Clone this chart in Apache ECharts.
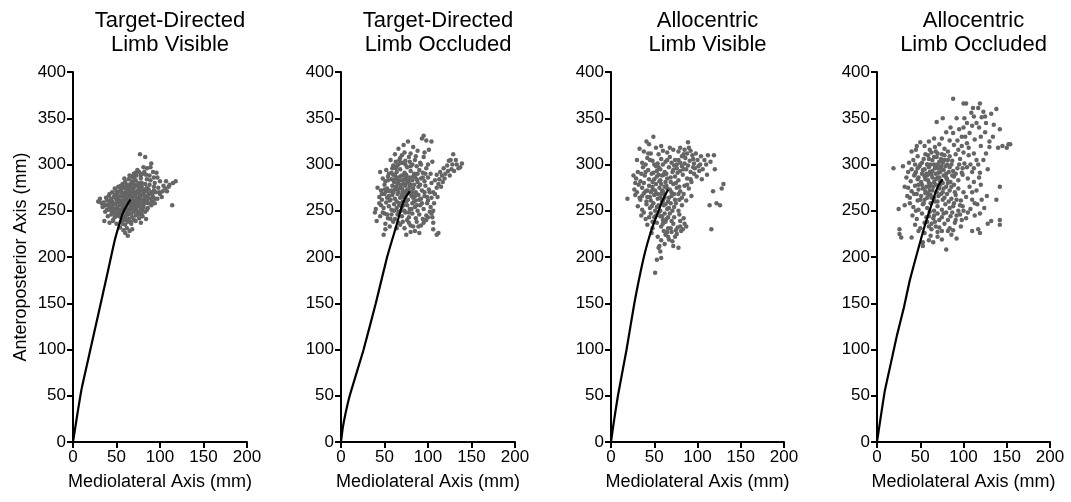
<!DOCTYPE html>
<html>
<head>
<meta charset="utf-8">
<script src="https://cdn.jsdelivr.net/npm/echarts@6/dist/echarts.min.js"></script>
<style>html,body{margin:0;padding:0;background:#fff}#c{width:1071px;height:502px}</style>
</head>
<body>
<div id="c"></div>
<script>
const panelTitles = ["Target-Directed\nLimb Visible", "Target-Directed\nLimb Occluded", "Allocentric\nLimb Visible", "Allocentric\nLimb Occluded"];
const xTicks = [0, 50, 100, 150, 200];
const yTicks = [0, 50, 100, 150, 200, 250, 300, 350, 400];
const xAxisName = "Mediolateral Axis (mm)";
const yAxisName = "Anteroposterior Axis (mm)";

const pts1 = [[60,281],[64,284],[68,282],[72,283],[75,280],[70,286],[66,279],[78,285],[62,278],[57,279],
[48,274],[52,276],[55,273],[58,275],[61,274],[64,276],[67,273],[70,275],[73,277],[76,274],[79,276],[82,273],[85,275],[88,278],[50,271],
[42,268],[45,270],[48,267],[51,269],[54,271],[57,268],[60,270],[63,267],[66,269],[69,271],[72,268],[75,270],[78,267],[81,269],[84,271],[87,268],[90,270],[93,272],
[38,264],[41,266],[44,263],[47,265],[50,262],[53,264],[56,266],[59,263],[62,265],[65,262],[68,264],[71,266],[74,263],[77,265],[80,262],[83,264],[86,266],[89,263],[92,265],
[30,260],[35,259],[39,261],[42,258],[45,260],[48,257],[51,259],[54,261],[57,258],[60,260],[63,257],[66,259],[69,261],[72,258],[75,260],[78,257],[81,259],[84,261],[87,258],[90,256],
[34,254],[38,256],[42,253],[45,255],[48,252],[51,254],[54,256],[57,253],[60,255],[63,252],[66,254],[69,256],[72,253],[75,255],[78,252],[81,254],[85,251],
[37,249],[41,251],[45,248],[49,250],[52,247],[55,249],[58,251],[61,248],[64,250],[67,247],[70,249],[73,251],[76,248],[79,246],[83,249],
[40,244],[44,246],[48,243],[52,245],[56,242],[60,244],[64,241],[68,243],[72,245],[76,242],[80,244],[84,241],
[36,239],[42,237],[46,240],[50,236],[55,238],[60,235],[63,238],[67,236],[72,239],[78,237],
[54,232],[58,229],[62,231],[65,228],[60,226],[63,223],[68,230],
[77,311],[83,308],[90,301],[85,296],[74,294],[92,292],[96,291],[100,282],[106,274],[111,278],[115,280],[118,282],[114,256],[102,265],[29,260],[35,255],[46,239],[97,286],[94,280],[99,270],[104,277],[108,271],[88,288],[80,290],[72,291],[85,284],[93,276],
[65,288],[70,290],[78,288],[82,292],
[46,258],[49,264],[53,260],[56,270],[59,266],[61,262],[64,270],[67,266],[70,260],[73,264],[76,268],[79,272],[82,266],[85,262],[88,268],[47,250],[53,251],[58,257],[62,260],[65,265],[68,257],[71,255],[74,258],[77,261],[80,256],[83,258],[86,253],[56,247],[62,246],[69,252],[74,249],[80,250],[55,277],[60,276],[65,273],[70,279],[74,272],[79,280],[83,279],[87,273],[91,268],[94,263],[95,270],[43,261],[40,256],[44,251],[58,240],[66,238],[70,240],[75,246],[59,285],[67,287],[73,288],[52,266],[56,257],[60,251],[64,246],[67,252],[71,270],[77,277],[62,270],[58,262],[69,267],[73,261],[66,276],[53,244],[49,246],[57,236],[61,240],[39,251],[33,258],[31,263],[91,260],[94,258],[97,263],[100,268],[98,275],[103,271],[110,276],[107,282],[89,283],[84,289],[76,292],[81,297],[89,297],[93,286]];

const pts2 = [[95,331],[98,326],[104,325],[77,325],[93,328],
[83,319],[66,317],[72,321],[88,315],[96,313],[80,312],[70,310],[62,311],[101,316],
[57,305],[63,303],[68,307],[74,304],[78,308],[85,305],[91,302],[95,308],[60,299],[66,300],[71,302],[82,300],[87,298],[100,300],[105,303],[129,311],[133,300],[139,301],[126,305],[122,299],[118,296],[135,296],[130,293],
[45,292],[52,294],[55,290],[59,296],[64,292],[68,295],[73,291],[76,297],[80,293],[84,290],[90,294],[94,291],[110,289],[114,292],[120,290],[125,288],[127,295],[113,284],[117,281],[108,283],
[48,285],[51,282],[54,287],[58,284],[61,281],[64,286],[67,283],[70,288],[73,284],[76,281],[79,286],[82,283],[85,287],[88,281],[92,285],[96,282],[100,286],[104,280],[62,289],[75,289],
[42,275],[46,272],[50,278],[53,274],[56,271],[59,277],[62,273],[65,279],[68,275],[71,271],[74,277],[77,273],[80,278],[83,274],[86,270],[89,276],[93,272],[97,277],[101,273],[106,270],[110,275],[66,270],[72,279],[79,271],
[44,265],[47,262],[50,268],[53,264],[56,261],[59,267],[62,263],[65,268],[68,264],[71,260],[74,266],[77,262],[80,268],[83,264],[86,261],[89,267],[92,263],[96,266],[100,261],[104,264],[108,268],[70,267],[76,269],
[40,252],[46,256],[49,253],[52,259],[55,255],[58,251],[61,257],[64,253],[67,258],[70,254],[73,250],[76,256],[79,252],[82,258],[85,254],[88,250],[91,256],[95,252],[99,258],[103,254],[106,250],
[39,248],[45,244],[50,247],[54,242],[58,246],[62,241],[66,249],[70,244],[74,248],[78,243],[82,247],[86,242],[90,246],[94,241],[98,245],[102,249],[105,243],
[41,239],[51,236],[56,233],[60,238],[68,235],[73,231],[78,237],[83,233],[87,238],[92,234],[98,240],[106,237],[64,231],[85,228],
[51,230],[49,224],[75,224],[110,224],[106,230],[90,226],[80,227],[112,226],
[60,270],[63,276],[66,282],[69,278],[72,265],[75,272],[78,280],[81,266],[84,278],[87,284],[64,260],[67,256],[70,274],[73,288],[76,286],[79,276],[82,270],[85,266],[62,284],[58,272],[55,266],[52,271],[57,262],[61,250],[65,246],[69,250],[72,256],[75,260],[78,248],[81,252],[84,260],[87,256],[90,262],[93,258],[96,270],[99,265],[102,270],[91,278],[94,286],[97,290],[88,290],[80,298],[74,300],[69,302],[64,298],[58,291],[54,283],[50,273],[47,268],[44,258],[48,248],[53,246],[57,241],[66,237],[71,238],[76,240],[80,234],[89,233],[95,237],[100,243],[104,247],[107,258],[111,265],[115,276],[119,285],[123,293],[128,300],[132,305],[137,297],[124,304],[116,288],[112,279],[103,290],[98,296],[92,300],[86,309],[79,303],[73,313],[67,305],[63,296],[60,289],[73,268],[68,287],[77,283],[71,283],[65,273],[83,287]];

const pts3 = [[49,330],[41,325],[89,324],[44,322],[52,318],
[33,317],[38,314],[46,312],[55,311],[60,315],[65,313],[72,316],[78,314],[84,311],[92,315],[98,312],[112,310],[119,310],[104,309],
[30,305],[36,302],[42,307],[48,304],[54,301],[58,306],[63,303],[68,308],[74,305],[80,302],[86,307],[91,304],[96,301],[103,300],[108,305],[82,309],[76,300],
[31,292],[37,297],[43,294],[49,291],[52,298],[57,295],[62,292],[67,297],[72,294],[77,291],[82,298],[87,295],[92,292],[97,296],[102,293],[111,289],[120,295],[73,299],
[29,285],[34,282],[39,288],[44,284],[48,281],[53,287],[57,283],[61,289],[65,285],[69,281],[74,287],[78,283],[83,289],[88,285],[93,281],[99,287],[105,284],[63,281],[55,289],
[27,273],[32,278],[36,275],[40,271],[44,277],[48,273],[52,279],[56,275],[60,271],[64,277],[68,273],[72,279],[76,275],[80,271],[85,277],[90,274],[118,271],[128,274],[130,279],[58,279],[46,270],
[19,263],[28,267],[33,264],[38,269],[42,265],[46,261],[50,267],[54,263],[58,268],[62,264],[66,260],[70,266],[74,262],[78,268],[82,264],[87,261],[93,266],[60,261],[52,269],
[31,255],[36,251],[41,257],[45,253],[49,258],[53,254],[57,250],[61,256],[65,252],[69,258],[73,254],[78,250],[82,256],[114,256],[126,256],[122,258],
[35,245],[40,241],[46,247],[50,243],[55,248],[59,244],[64,241],[68,247],[73,243],[79,246],[84,242],
[42,235],[48,231],[53,237],[58,233],[63,238],[66,231],[72,236],[77,232],[83,230],[87,233],[116,230],[80,239],
[47,226],[54,222],[58,218],[63,224],[67,219],[70,227],[74,222],[78,210],[72,212],[76,225],[81,228],[61,228],[56,212],
[51,183],[58,199],[53,197],[57,206],[55,210],
[45,265],[48,276],[51,272],[54,268],[57,264],[59,272],[62,268],[65,274],[67,264],[70,270],[73,268],[75,280],[79,276],[62,276],[56,282],[50,284],[47,290],[53,293],[59,288],[64,290],[69,286],[71,292],[76,296],[80,293],[84,295],[78,305],[85,301],[89,299],[95,297],[100,305],[94,310],[88,312],[70,302],[65,305],[60,300],[55,297],[50,300],[45,305],[40,300],[35,290],[38,280],[42,272],[36,266],[41,260],[47,255],[51,250],[55,256],[59,260],[63,257],[67,253],[71,250],[75,258],[79,262],[84,268],[88,278],[92,284],[96,290],[101,298],[106,295],[110,300],[115,303],[57,244],[62,247],[66,243],[70,239],[60,236],[65,227],[69,231],[75,229],[80,233],[85,236],[71,217],[66,222],[62,214],[60,240],[52,245],[48,238],[44,243],[38,248],[34,262],[30,270],[28,280],[26,288],[40,292],[43,312],[58,320],[68,318],[80,318],[85,316],[90,318],[95,306]];

const pts4 = [[88,371],[100,366],[103,366],[111,361],[117,361],[138,360],[123,357],[121,351],[125,352],[92,350],[76,350],[69,346],[101,350],[109,356],[142,338],[154,322],[152,322],[134,330],[130,319],[115,345],[118,340],[110,342],[95,338],[85,340],[80,335],[98,330],[107,334],[125,335],[140,318],[113,327],
[50,324],[55,320],[61,316],[67,319],[72,322],[78,317],[84,326],[89,321],[94,316],[100,313],[104,323],[120,320],[45,316],[40,314],
[42,305],[47,309],[52,302],[56,311],[60,306],[63,313],[66,300],[69,308],[72,303],[75,311],[78,305],[81,300],[84,309],[87,304],[91,311],[96,306],[101,301],[106,310],[115,305],[128,295],[19,296],[30,298],[58,300],[74,296],[68,314],
[40,295],[45,292],[49,298],[53,294],[57,290],[60,297],[64,293],[67,299],[71,291],[74,298],[77,294],[80,290],[84,297],[88,293],[93,296],[98,291],[104,297],[110,292],[119,291],[62,290],[70,296],
[34,286],[39,282],[43,288],[47,284],[51,281],[55,287],[59,283],[63,289],[66,281],[70,286],[73,282],[77,288],[81,284],[85,281],[89,287],[94,283],[99,289],[105,285],[112,281],[118,286],[58,288],[68,284],
[36,275],[40,271],[44,277],[48,273],[52,278],[56,271],[60,276],[64,272],[68,278],[72,274],[76,270],[80,276],[84,272],[89,278],[94,274],[100,270],[107,276],[115,272],[142,276],[62,279],
[38,264],[43,268],[47,261],[51,266],[55,262],[59,268],[63,264],[67,260],[71,266],[76,262],[81,268],[86,263],[91,267],[97,261],[103,265],[110,262],[121,262],[56,269],
[25,252],[32,256],[42,254],[48,251],[53,257],[58,253],[62,258],[66,250],[70,255],[75,251],[79,257],[84,253],[89,258],[94,250],[99,255],[108,252],[116,257],[124,253],
[41,245],[46,241],[52,247],[57,243],[61,249],[65,242],[70,247],[75,243],[80,248],[85,244],[91,240],[96,246],[103,242],[113,245],[132,239],[142,240],[119,247],
[26,230],[44,235],[50,231],[55,237],[60,233],[67,238],[72,232],[78,236],[84,231],[90,237],[97,233],[117,230],[142,235],[128,236],[63,230],
[28,221],[40,221],[53,212],[55,226],[62,223],[70,227],[75,219],[80,208],[86,224],[92,220],[119,226],[110,228],[26,225],[65,216],
[55,295],[58,300],[61,292],[64,305],[67,296],[70,300],[73,292],[76,302],[79,298],[82,305],[62,300],[66,308],[70,312],[74,306],[78,310],[82,314],[86,300],[59,310],[54,306],[50,300],[47,296],[44,290],[48,286],[52,290],[56,284],[60,280],[64,286],[68,290],[72,286],[76,280],[80,286],[83,292],[87,288],[91,290],[95,300],[99,296],[48,278],[53,274],[57,276],[61,272],[65,276],[69,270],[73,278],[77,274],[82,280],[86,276],[90,270],[46,268],[50,262],[54,258],[58,264],[62,267],[66,264],[70,260],[74,268],[78,264],[83,260],[88,255],[92,262],[96,256],[100,250],[105,248],[60,244],[66,245],[72,240],[77,247],[82,240],[87,248],[92,245],[98,240],[58,238],[63,236],[68,233],[82,228],[88,229],[75,228],[70,222],[60,218],[53,216],[48,228],[45,250],[38,258],[35,266],[32,276],[36,292],[37,302],[44,300],[46,320],[60,325],[66,328],[75,328],[88,334],[93,326],[98,320],[102,330],[106,318],[112,312],[117,300],[123,305],[126,312],[120,330],[126,345],[132,355],[112,352],[104,345],[100,340],[119,366],[130,325],[135,343],[145,320],[150,318],[108,300],[112,296],[110,270],[113,258],[120,278],[127,266],[138,262]];

const path1 = [[0,0],[5,30],[10,58],[20,100],[30,142],[40,184],[48,218],[54,238],[58,249],[62,256],[66,262]];
const path2 = [[0,0],[2,15],[5,30],[10,50],[18,75],[26,100],[40,150],[53,200],[64,235],[70,255],[74,264],[79,271]];
const path3 = [[0,0],[3,20],[8,50],[18,100],[27,150],[38,200],[47,230],[55,250],[60,262],[66,273]];
const path4 = [[0,0],[4,25],[9,55],[16,85],[23,115],[31,145],[38,175],[46,203],[54,230],[60,248],[64,259],[68,271],[72,279],[76,284]];

const scatterSets = [pts1, pts2, pts3, pts4];
const pathSets = [path1, path2, path3, path4];

const FONT = "'Liberation Sans', Arial, sans-serif";
const gridLefts = [73, 341, 611, 877];
const gridWidths = [174, 174, 173, 173];

const chart = echarts.init(document.getElementById('c'));
const grids = [], xAxes = [], yAxes = [], series = [], titles = [];
for (let i = 0; i < 4; i++) {
  grids.push({left: gridLefts[i], top: 72, width: gridWidths[i], height: 370, containLabel: false});
  titles.push({
    text: panelTitles[i], left: gridLefts[i] + gridWidths[i] / 2 + 5, top: 4, textAlign: 'center',
    textStyle: {fontFamily: FONT, fontSize: 22, fontWeight: 'normal', color: '#000', lineHeight: 24}
  });
  xAxes.push({
    type: 'value', gridIndex: i, min: xTicks[0], max: xTicks[xTicks.length - 1], interval: 50,
    name: xAxisName, nameLocation: 'middle', nameGap: 31,
    nameTextStyle: {fontFamily: FONT, fontSize: 18, color: '#000'},
    axisLine: {show: true, onZero: false, lineStyle: {color: '#000', width: 2}},
    axisTick: {show: true, inside: false, length: 6, lineStyle: {color: '#000', width: 2}},
    axisLabel: {inside: false, fontFamily: FONT, fontSize: 17, color: '#000', margin: 7},
    splitLine: {show: false}
  });
  yAxes.push({
    type: 'value', gridIndex: i, min: yTicks[0], max: yTicks[yTicks.length - 1], interval: 50,
    name: i === 0 ? yAxisName : '', nameLocation: 'middle', nameGap: 43,
    nameTextStyle: {fontFamily: FONT, fontSize: 18, color: '#000'},
    axisLine: {show: true, onZero: false, lineStyle: {color: '#000', width: 2}},
    axisTick: {show: true, inside: false, length: 6, lineStyle: {color: '#000', width: 2}},
    axisLabel: {inside: false, fontFamily: FONT, fontSize: 17, color: '#000', margin: 7},
    splitLine: {show: false}
  });
  series.push({
    type: 'scatter', xAxisIndex: i, yAxisIndex: i, data: scatterSets[i],
    symbolSize: 4.5, itemStyle: {color: '#656565', opacity: 1}, z: 2, silent: true
  });
  series.push({
    type: 'line', xAxisIndex: i, yAxisIndex: i, data: pathSets[i], smooth: 0.15,
    showSymbol: false, symbol: 'none', lineStyle: {color: '#000', width: 2.2}, z: 5, silent: true
  });
}
chart.setOption({
  animation: false,
  backgroundColor: '#fff',
  title: titles, grid: grids, xAxis: xAxes, yAxis: yAxes, series: series
});
</script>
</body>
</html>
